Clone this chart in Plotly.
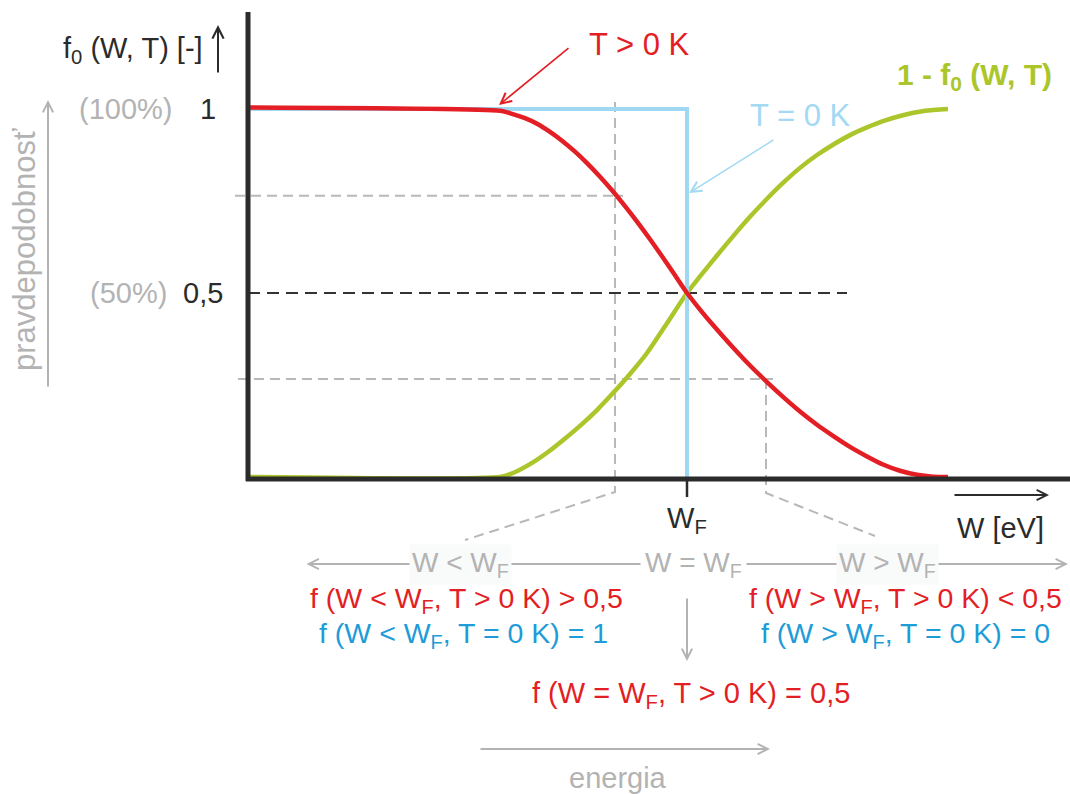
import plotly.graph_objects as go

# ---- data -------------------------------------------------------------
# energy axis: W - W_F (arbitrary units), probability f0 in [0, 1]
red_energy = [-4.39, -1.87, -1.75, -1.62, -1.50, -1.37, -1.25, -1.12, -1.00,
              -0.87, -0.75, -0.62, -0.50, -0.37, -0.25, -0.12, 0.0,
              0.13, 0.26, 0.46, 0.63, 0.80, 0.98, 1.13, 1.30, 1.46, 1.63,
              1.80, 1.96, 2.13, 2.30, 2.46, 2.61]
red_prob = [1.004, 0.995, 0.987, 0.975, 0.960, 0.938, 0.914, 0.884, 0.853,
            0.816, 0.779, 0.736, 0.694, 0.646, 0.600, 0.548, 0.5,
            0.455, 0.413, 0.352, 0.303, 0.258, 0.213, 0.178, 0.142, 0.112,
            0.082, 0.056, 0.034, 0.017, 0.006, 0.001, 0.0]

green_energy = [-4.39, -1.87, -1.74, -1.57, -1.40, -1.24, -1.07, -0.90, -0.74,
                -0.57, -0.40, -0.20, 0.0, 0.13, 0.30, 0.46, 0.63, 0.80,
                0.96, 1.13, 1.30, 1.46, 1.63, 1.80, 1.96, 2.13, 2.38, 2.61]
green_prob = [0.0, 0.0, 0.011, 0.035, 0.066, 0.100, 0.139, 0.182, 0.228,
              0.280, 0.337, 0.418, 0.5, 0.545, 0.602, 0.654, 0.707, 0.756,
              0.799, 0.840, 0.875, 0.903, 0.929, 0.950, 0.967, 0.981, 0.995,
              1.0]

t0_energy = [-4.39, 0.0, 0.0]
t0_prob = [1.0, 1.0, 0.0]

half_level = 0.5
half_end = 1.60

guide_energy = [-0.72, 0.79]
guide_prob = [0.764, 0.266]

y_tick_vals = [1.0, 0.5]
y_tick_text = ["1", "0,5"]
y_pct_text = ["(100%)", "(50%)"]
x_tick_vals = [0.0]
x_tick_text = ["W<sub>F</sub>"]

# ---- styling ----------------------------------------------------------
FONT = "Liberation Sans, Arial, sans-serif"
RED = "#e31e24"
GREEN = "#abc62a"
BLUE_LINE = "#9fd8f2"
BLUE_LIGHT = "#a3d9f3"
BLUE_TEXT = "#1d9cd8"
GRAY = "#b3b3b3"
DARK = "#2b2b2b"

X0, X1 = -6.87, 3.83
Y0, Y1 = -0.8614, 1.2962
AX_X = -4.39      # position of the vertical axis
AX_Y = -0.0054    # position of the horizontal axis

fig = go.Figure()

# dashed guide lines (grey)
lx, rx = guide_energy
ly, ry = guide_prob
fig.add_trace(go.Scatter(
    x=[-4.52, lx + 0.08, None, lx, lx, lx - 1.50],
    y=[ly, ly, None, 1.019, -0.0408, -0.1712],
    mode="lines", line=dict(color="#b8b8b8", width=2, dash="10px,6px"),
    hoverinfo="skip"))
fig.add_trace(go.Scatter(
    x=[-4.49, rx + 0.07, None, rx, rx, rx + 1.09],
    y=[ry, ry, None, ry, -0.0435, -0.1603],
    mode="lines", line=dict(color="#b8b8b8", width=2, dash="10px,6px"),
    hoverinfo="skip"))

# f = 0.5 reference line
fig.add_trace(go.Scatter(
    x=[AX_X, half_end], y=[half_level, half_level], mode="lines",
    line=dict(color="#333333", width=2.2, dash="12px,7px"), hoverinfo="skip"))

# 1 - f0 (green)
fig.add_trace(go.Scatter(
    x=green_energy, y=green_prob, mode="lines",
    line=dict(color=GREEN, width=4.5, shape="spline", smoothing=0.6),
    hoverinfo="skip"))

# T = 0 K step (light blue)
fig.add_trace(go.Scatter(
    x=t0_energy, y=t0_prob, mode="lines",
    line=dict(color=BLUE_LINE, width=4), hoverinfo="skip"))

# T > 0 K (red)
fig.add_trace(go.Scatter(
    x=red_energy, y=red_prob, mode="lines",
    line=dict(color=RED, width=4.5, shape="spline", smoothing=0.6),
    hoverinfo="skip"))

# axes lines and the W_F tick
shapes = [
    dict(type="line", x0=AX_X, x1=AX_X, y0=-0.0109, y1=1.2636,
         line=dict(color=DARK, width=5), layer="above"),
    dict(type="line", x0=-4.41, x1=X1, y0=AX_Y, y1=AX_Y,
         line=dict(color=DARK, width=5), layer="above"),
]
for xv in x_tick_vals:
    shapes.append(dict(type="line", x0=xv, x1=xv, y0=AX_Y, y1=-0.0543,
                       line=dict(color=DARK, width=2.5), layer="above"))

ann = []


def text(x, y, s, color=DARK, size=29, xanchor="center", **kw):
    ann.append(dict(x=x, y=y, text=s, showarrow=False, xanchor=xanchor,
                    yanchor="middle", font=dict(family=FONT, size=size,
                                                color=color), **kw))


def arrow(x0, y0, x1, y1, color, width=2, size=1.0, both=False):
    d = dict(x=x1, y=y1, ax=x0, ay=y0, axref="x", ayref="y", text="",
             showarrow=True, arrowhead=5, arrowsize=size, arrowwidth=width,
             arrowcolor=color, standoff=0, startstandoff=0)
    if both:
        d.update(arrowside="end+start", startarrowhead=5,
                 startarrowsize=size)
    ann.append(d)


# y axis title and tick labels
text(-4.82, 1.1603, "f<sub>0</sub> (W, T) [-]", xanchor="right")
arrow(-4.69, 1.0951, -4.69, 1.2283, DARK, width=2, size=1.1)
for v, t, p in zip(y_tick_vals, y_tick_text, y_pct_text):
    text(-4.62 if v < 1 else -4.69, v, t, xanchor="right")
    text(-5.18 if v < 1 else -5.12, v, p, color=GRAY, xanchor="right")

text(-6.62, 0.617, "pravdepodobnosť", color=GRAY, size=31, textangle=-90)
arrow(-6.39, 0.2418, -6.39, 1.0245, GRAY, width=2, size=1.0)

# curve labels
text(-0.48, 1.1766, "T > 0 K", color=RED, size=31)
arrow(-1.17, 1.1685, -1.88, 1.0109, RED, width=1.6, size=1.3)
text(1.13, 0.9837, "T = 0 K", color=BLUE_LIGHT, size=31)
arrow(0.88, 0.9185, 0.02, 0.7717, BLUE_LIGHT, width=1.6, size=1.3)
text(2.87, 1.087, "<b>1 - f<sub>0</sub> (W, T)</b>", color=GREEN, size=30)

# x axis labels
for xv, t in zip(x_tick_vals, x_tick_text):
    text(xv, -0.1168, t)
text(3.13, -0.1386, "W [eV]")
arrow(2.66, -0.0489, 3.62, -0.0489, DARK, width=2, size=1.0)

# energy regions
arrow(-3.82, -0.2364, 3.81, -0.2364, GRAY, width=2, size=1.0, both=True)
text(-2.27, -0.2364, "W &lt; W<sub>F</sub>", color=GRAY, size=28,
     bgcolor="#f9fafa", borderpad=2)
text(0.06, -0.2364, "W = W<sub>F</sub>", color=GRAY, size=28,
     bgcolor="#ffffff", borderpad=4)
text(2.00, -0.2364, "W &gt; W<sub>F</sub>", color=GRAY, size=28,
     bgcolor="#f9fafa", borderpad=2)

FS = 28.5
text(-2.21, -0.3342, "f (W &lt; W<sub>F</sub>, T &gt; 0 K) &gt; 0,5",
     color=RED, size=FS, borderpad=0)
text(-2.24, -0.4293, "f (W &lt; W<sub>F</sub>, T = 0 K) = 1",
     color=BLUE_TEXT, size=FS, borderpad=0)
text(2.18, -0.3342, "f (W &gt; W<sub>F</sub>, T &gt; 0 K) &lt; 0,5",
     color=RED, size=FS, borderpad=0)
text(2.18, -0.4293, "f (W &gt; W<sub>F</sub>, T = 0 K) = 0",
     color=BLUE_TEXT, size=FS, borderpad=0)

arrow(0.0, -0.3261, 0.0, -0.5, GRAY, width=2, size=1.0)
text(0.04, -0.5924, "f (W = W<sub>F</sub>, T &gt; 0 K) = 0,5", color=RED)

arrow(-2.08, -0.7391, 0.83, -0.7391, GRAY, width=2, size=1.0)
text(-0.69, -0.818, "energia", color=GRAY, size=29)

fig.update_layout(
    width=1070, height=794,
    margin=dict(l=0, r=0, t=0, b=0),
    paper_bgcolor="white", plot_bgcolor="white",
    showlegend=False,
    xaxis=dict(range=[X0, X1], visible=False, fixedrange=True),
    yaxis=dict(range=[Y0, Y1], visible=False, fixedrange=True),
    shapes=shapes, annotations=ann,
)

fig.write_html("out.html")
